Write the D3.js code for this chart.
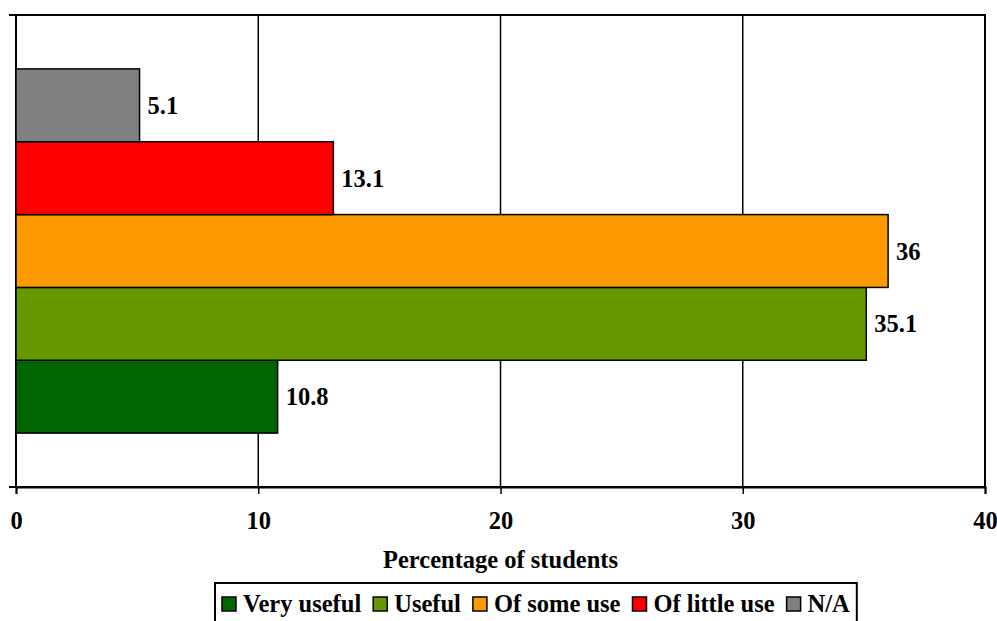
<!DOCTYPE html>
<html>
<head>
<meta charset="utf-8">
<script src="https://cdn.jsdelivr.net/npm/d3@7"></script>
<style>
  body { margin: 0; background: #fff; }
  text { font-family: "Liberation Serif", "Times New Roman", serif; font-weight: bold; fill: #000; }
</style>
</head>
<body>
<script>
var categories = ["Very useful", "Useful", "Of some use", "Of little use", "N/A"];
var values = [10.8, 35.1, 36, 13.1, 5.1];
var colors = ["#006600", "#669900", "#FF9900", "#FF0000", "#808080"];
var xTicks = [0, 10, 20, 30, 40];

var W = 997, H = 621, fs = "24.5px";
var margin = {top: 15, right: 12, bottom: 134, left: 16},
    width = W - margin.left - margin.right,
    height = H - margin.top - margin.bottom;

var svg = d3.select("body").append("svg")
    .attr("width", W)
    .attr("height", H);

var g = svg.append("g")
    .attr("transform", "translate(" + margin.left + "," + margin.top + ")");

var x = d3.scaleLinear().domain([0, 40]).range([0, width]);

// first series sits at the bottom, like excel does
var y = d3.scaleBand()
    .domain(categories.slice().reverse())
    .range([0, height])
    .paddingInner(0)
    .paddingOuter(0.74);

// plot border + gridlines
g.append("rect")
    .attr("width", width).attr("height", height)
    .attr("fill", "none").attr("stroke", "#000").attr("stroke-width", 2);

g.selectAll(".grid")
    .data(xTicks.slice(1, -1))
    .enter().append("line")
    .attr("x1", function(d) { return x(d); })
    .attr("x2", function(d) { return x(d); })
    .attr("y1", 0).attr("y2", height)
    .attr("stroke", "#000").attr("stroke-width", 1.5);

// bars
g.selectAll(".bar")
    .data(values)
    .enter().append("rect")
    .attr("x", 0)
    .attr("y", function(d, i) { return y(categories[i]); })
    .attr("width", function(d) { return x(d); })
    .attr("height", y.bandwidth())
    .attr("fill", function(d, i) { return colors[i]; })
    .attr("stroke", "#000").attr("stroke-width", 1.5);

g.selectAll(".lbl")
    .data(values)
    .enter().append("text")
    .attr("x", function(d) { return x(d) + 8; })
    .attr("y", function(d, i) { return y(categories[i]) + y.bandwidth() / 2; })
    .attr("dy", "0.35em")
    .style("font-size", fs)
    .text(function(d) { return d; });

// x axis
var xAxis = g.append("g")
    .attr("transform", "translate(0," + height + ")")
    .call(d3.axisBottom(x).tickValues(xTicks).tickSize(7).tickPadding(18));
xAxis.select(".domain").attr("stroke-width", 2);
xAxis.selectAll(".tick line").attr("stroke-width", 1.5);
xAxis.selectAll("text").style("font-size", fs).attr("font-family", null);

// y axis ticks at band edges only (single group)
g.selectAll(".ytick")
    .data([0, height])
    .enter().append("line")
    .attr("x1", -7).attr("x2", 0)
    .attr("y1", function(d) { return d; }).attr("y2", function(d) { return d; })
    .attr("stroke", "#000").attr("stroke-width", 2);

svg.append("text")
    .attr("x", margin.left + width / 2)
    .attr("y", 568)
    .attr("text-anchor", "middle")
    .style("font-size", fs)
    .text("Percentage of students");

// legend
var leg = svg.append("g");
var legBox = leg.append("rect")
    .attr("fill", "#fff").attr("stroke", "#000").attr("stroke-width", 2);
var cx = 0;
var items = leg.selectAll(".item")
    .data(categories)
    .enter().append("g");
items.each(function(d, i) {
    var it = d3.select(this);
    it.append("rect")
        .attr("x", cx).attr("y", -15)
        .attr("width", 14).attr("height", 14)
        .attr("fill", colors[i]).attr("stroke", "#000").attr("stroke-width", 1.5);
    var t = it.append("text")
        .attr("x", cx + 21).attr("y", 0)
        .style("font-size", fs)
        .text(d);
    cx += 21 + t.node().getComputedTextLength() + 12;
});
var legW = cx - 12;
var lx = 222, ly = 612;
leg.attr("transform", "translate(" + lx + "," + ly + ")");
legBox.attr("x", -7).attr("y", -29).attr("width", legW + 14).attr("height", 50);
</script>
</body>
</html>
